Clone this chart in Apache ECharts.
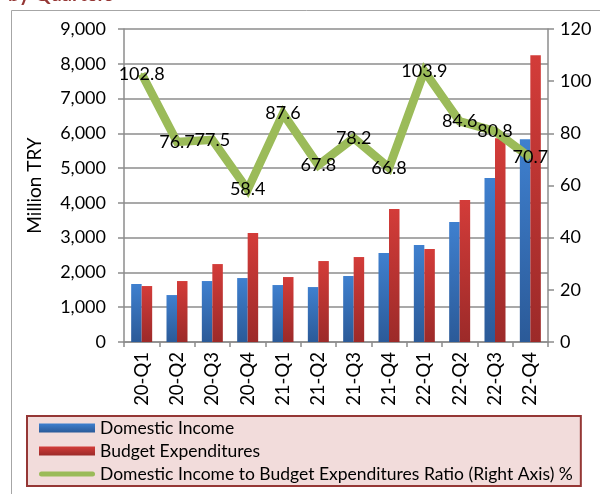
<!DOCTYPE html>
<html>
<head>
<meta charset="utf-8">
<script src="https://cdn.jsdelivr.net/npm/echarts@6/dist/echarts.min.js"></script>
<style>
  html, body { margin: 0; padding: 0; background: #fff; }
  #chart { width: 600px; height: 494px; }
</style>
</head>
<body>
<div id="chart"></div>
<script>
// data
const quarters = ['20-Q1', '20-Q2', '20-Q3', '20-Q4', '21-Q1', '21-Q2', '21-Q3', '21-Q4', '22-Q1', '22-Q2', '22-Q3', '22-Q4'];
const domesticIncome = [1667, 1350, 1753, 1839, 1638, 1580, 1897, 2557, 2787, 3448, 4713, 5833];
const budgetExpenditures = [1609, 1753, 2241, 3132, 1868, 2328, 2443, 3822, 2672, 4080, 5862, 8247];
const ratio = [102.8, 76.7, 77.5, 58.4, 87.6, 67.8, 78.2, 66.8, 103.9, 84.6, 80.8, 70.7];
const leftTicks = [0, 9000, 1000];
const rightTicks = [0, 120, 20];

const font = 'Lato, "Open Sans", sans-serif';

const grad = (top, bottom) =>
  new echarts.graphic.LinearGradient(0, 0, 0, 1, [
    { offset: 0, color: top },
    { offset: 1, color: bottom },
  ]);

const chart = echarts.init(document.getElementById('chart'));

const option = {
  animation: false,
  textStyle: { fontFamily: font },
  graphic: [
    {
      type: 'rect',
      left: 9,
      top: 8,
      z: -1,
      shape: { width: 600, height: 500 },
      style: { fill: 'none', stroke: '#a6a6a6', lineWidth: 1 },
    },
    {
      type: 'text',
      left: 8,
      top: -15,
      style: { text: 'by Quarters', fill: '#953735', font: 'bold 20px ' + font },
    },
  ],
  grid: { left: 124, right: 52, top: 29, bottom: 152 },
  legend: {
    orient: 'vertical',
    left: 27,
    top: 416,
    padding: [3, 8, 3, 12],
    itemGap: 5,
    itemWidth: 56,
    itemHeight: 9,
    backgroundColor: '#f2dcdb',
    borderColor: '#953735',
    borderWidth: 2,
    textStyle: { fontSize: 17.5, color: '#000', fontFamily: font },
    data: [
      { name: 'Domestic Income', icon: 'rect' },
      { name: 'Budget Expenditures', icon: 'rect' },
      {
        name: 'Domestic Income to Budget Expenditures Ratio (Right Axis) %',
        icon: 'path://M2.5,0 L53.5,0 A2.5,2.5 0 0 1 53.5,5 L2.5,5 A2.5,2.5 0 0 1 2.5,0 Z',
      },
    ],
  },
  xAxis: {
    type: 'category',
    data: quarters,
    axisLine: { lineStyle: { color: '#8c8c8c', width: 1.5 } },
    axisTick: { show: true, length: 5, lineStyle: { color: '#8c8c8c', width: 1.5 } },
    axisLabel: { rotate: 90, fontSize: 18.5, color: '#000', margin: 10 },
  },
  yAxis: [
    {
      type: 'value',
      min: leftTicks[0],
      max: leftTicks[1],
      interval: leftTicks[2],
      name: 'Million TRY',
      nameLocation: 'middle',
      nameGap: 80,
      nameTextStyle: { fontSize: 19, color: '#000' },
      axisLine: { show: true, lineStyle: { color: '#8c8c8c', width: 1.5 } },
      axisTick: { show: true, length: 6, lineStyle: { color: '#8c8c8c', width: 1.5 } },
      axisLabel: {
        fontSize: 18,
        color: '#000',
        margin: 18,
        formatter: (v) => v.toLocaleString('en-US'),
      },
      splitLine: { lineStyle: { color: '#8c8c8c', width: 1.5 } },
    },
    {
      type: 'value',
      min: rightTicks[0],
      max: rightTicks[1],
      interval: rightTicks[2],
      position: 'right',
      axisLine: { show: true, lineStyle: { color: '#8c8c8c', width: 1.5 } },
      axisTick: { show: true, length: 6, lineStyle: { color: '#8c8c8c', width: 1.5 } },
      axisLabel: { fontSize: 18, color: '#000', margin: 12 },
      splitLine: { show: false },
    },
  ],
  series: [
    {
      name: 'Domestic Income',
      type: 'bar',
      data: domesticIncome,
      barWidth: 10.5,
      barGap: '0%',
      itemStyle: { color: grad('#3f80cf', '#2b5a98') },
    },
    {
      name: 'Budget Expenditures',
      type: 'bar',
      data: budgetExpenditures,
      barWidth: 10.5,
      barGap: '0%',
      itemStyle: { color: grad('#d33c39', '#9c2a29') },
    },
    {
      name: 'Domestic Income to Budget Expenditures Ratio (Right Axis) %',
      type: 'line',
      yAxisIndex: 1,
      data: ratio,
      symbol: 'circle',
      symbolSize: 2,
      showSymbol: true,
      color: '#9bbb59',
      itemStyle: { color: '#9bbb59' },
      lineStyle: { color: '#9bbb59', width: 8.5, join: 'miter', cap: 'butt' },
      label: {
        show: true,
        position: 'inside',
        fontSize: 18,
        color: '#000',
        fontFamily: font,
      },
      labelLayout: { hideOverlap: false },
      z: 3,
    },
  ],
};

chart.setOption(option);
</script>
</body>
</html>
